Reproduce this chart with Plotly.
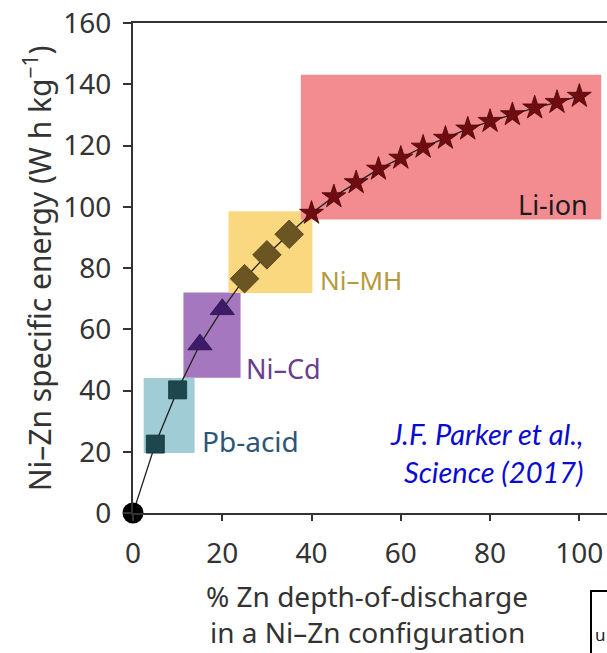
import plotly.graph_objects as go

# ---------------- data ----------------
origin_x = [0]
origin_y = [0]

pb_x = [5, 10]
pb_y = [22.5, 40.2]

nicd_x = [15, 20]
nicd_y = [55, 66.5]

nimh_x = [25, 30, 35]
nimh_y = [76.5, 84.3, 91]

li_x = [40, 45, 50, 55, 60, 65, 70, 75, 80, 85, 90, 95, 100]
li_y = [97.9, 103.3, 107.9, 112.3, 115.9, 119.5, 122.4, 125.4, 127.9, 130.1, 132.3, 134.1, 136.1]

# region boxes: [x0, x1, y0, y1]
pb_box = [2.4, 13.8, 19.6, 44.1]
nicd_box = [11.3, 24.1, 44.2, 72.0]
nimh_box = [21.4, 40.2, 71.8, 98.5]
li_box = [37.6, 104.9, 95.8, 143.1]

x_ticks = [0, 20, 40, 60, 80, 100]
y_ticks = [0, 20, 40, 60, 80, 100, 120, 140, 160]

FONT = "Noto Sans"
AXC = "#333333"

fig = go.Figure()

boxes = [
    (pb_box, "#a0ccd6"),
    (nicd_box, "#a477be"),
    (nimh_box, "#fad880"),
    (li_box, "#f28c90"),
]
for b, c in boxes:
    fig.add_shape(type="rect", x0=b[0], x1=b[1], y0=b[2], y1=b[3],
                  xref="x", yref="y", fillcolor=c, line_width=0, layer="below")

all_x = origin_x + pb_x + nicd_x + nimh_x + li_x
all_y = origin_y + pb_y + nicd_y + nimh_y + li_y
fig.add_trace(go.Scatter(x=all_x, y=all_y, mode="lines",
                         line=dict(color="#222222", width=1.3),
                         showlegend=False, hoverinfo="skip"))

fig.add_trace(go.Scatter(x=li_x, y=li_y, mode="markers", cliponaxis=False,
                         marker=dict(symbol="star", size=18, color="#6e0c12",
                                     line=dict(color="#4a0508", width=0.8)),
                         showlegend=False))
fig.add_trace(go.Scatter(x=nimh_x, y=nimh_y, mode="markers", cliponaxis=False,
                         marker=dict(symbol="diamond", size=22, color="#6b5523",
                                     line=dict(color="#4d3c14", width=0.8)),
                         showlegend=False))
fig.add_trace(go.Scatter(x=nicd_x, y=nicd_y, mode="markers", cliponaxis=False,
                         marker=dict(symbol="triangle-up", size=21, color="#3d1b68",
                                     line=dict(color="#2a0f4c", width=0.8)),
                         showlegend=False))
fig.add_trace(go.Scatter(x=pb_x, y=pb_y, mode="markers", cliponaxis=False,
                         marker=dict(symbol="square", size=18, color="#1d474d",
                                     line=dict(color="#123236", width=0.8)),
                         showlegend=False))
fig.add_trace(go.Scatter(x=origin_x, y=origin_y, mode="markers", cliponaxis=False,
                         marker=dict(symbol="circle", size=21, color="black"),
                         showlegend=False))

lab_font = dict(family=FONT, size=27)
fig.add_annotation(x=102.4, y=100.6, text="Li-ion", showarrow=False,
                   xanchor="right", yanchor="middle",
                   font=dict(lab_font, color="#1a1a1a"))
fig.add_annotation(x=41.4, y=76, text="Ni–MH", showarrow=False,
                   xanchor="left", yanchor="middle",
                   font=dict(family=FONT, size=26, color="#b59a3c"))
fig.add_annotation(x=24.8, y=47.2, text="Ni–Cd", showarrow=False,
                   xanchor="left", yanchor="middle",
                   font=dict(lab_font, color="#6a3d91"))
fig.add_annotation(x=14.9, y=23.5, text="Pb-acid", showarrow=False,
                   xanchor="left", yanchor="middle",
                   font=dict(family=FONT, size=28, color="#2d5577"))

cite_font = dict(family="Lato", size=29, color="#0a0ad0")
fig.add_annotation(x=101.6, y=25.8, text="<i>J.F. Parker et al.,</i>", showarrow=False,
                   xanchor="right", yanchor="middle", font=cite_font)
fig.add_annotation(x=101.6, y=13.7, text="<i>Science (2017)</i>", showarrow=False,
                   xanchor="right", yanchor="middle", font=cite_font)

# axis titles
fig.add_annotation(xref="paper", yref="paper", x=-0.2, y=0.5,
                   text="Ni–Zn specific energy (W h kg<sup>−1</sup>)",
                   textangle=-90, showarrow=False, xanchor="center", yanchor="middle",
                   font=dict(family=FONT, size=30, color=AXC))
fig.add_annotation(xref="paper", yref="paper", x=0.494, y=-0.17,
                   text="% Zn depth-of-discharge", showarrow=False,
                   xanchor="center", yanchor="middle",
                   font=dict(family=FONT, size=28, color=AXC))
fig.add_annotation(xref="paper", yref="paper", x=0.494, y=-0.243,
                   text="in a Ni–Zn configuration", showarrow=False,
                   xanchor="center", yanchor="middle",
                   font=dict(family=FONT, size=28, color=AXC))

# partial box at bottom-right corner
fig.add_shape(type="rect", xref="paper", yref="paper",
              x0=(591 - 133) / 474, x1=1.2, y0=(513 - 591) / 490, y1=-0.5,
              line=dict(color="black", width=2), fillcolor="rgba(0,0,0,0)")
fig.add_annotation(xref="paper", yref="paper", x=(594 - 133) / 474, y=(513 - 634) / 490,
                   text="u", showarrow=False, xanchor="left", yanchor="middle",
                   borderpad=0, font=dict(family=FONT, size=17, color="#222222"))

fig.update_layout(
    width=607, height=653,
    margin=dict(l=133, r=0, t=23, b=140),
    paper_bgcolor="white", plot_bgcolor="white",
    showlegend=False,
    xaxis=dict(range=[0, 106.2], tickvals=x_ticks, showgrid=False, zeroline=False,
               showline=True, linecolor=AXC, linewidth=2, mirror=True,
               ticks="outside", ticklen=6, tickcolor=AXC, tickwidth=1.5,
               ticklabelstandoff=8,
               tickfont=dict(family=FONT, size=28, color=AXC)),
    yaxis=dict(range=[0, 160], tickvals=y_ticks, showgrid=False, zeroline=False,
               showline=True, linecolor=AXC, linewidth=2,
               ticks="outside", ticklen=8, tickcolor=AXC, tickwidth=1.5,
               ticklabelstandoff=6,
               tickfont=dict(family=FONT, size=28, color=AXC)),
)

fig.write_html("out.html")
